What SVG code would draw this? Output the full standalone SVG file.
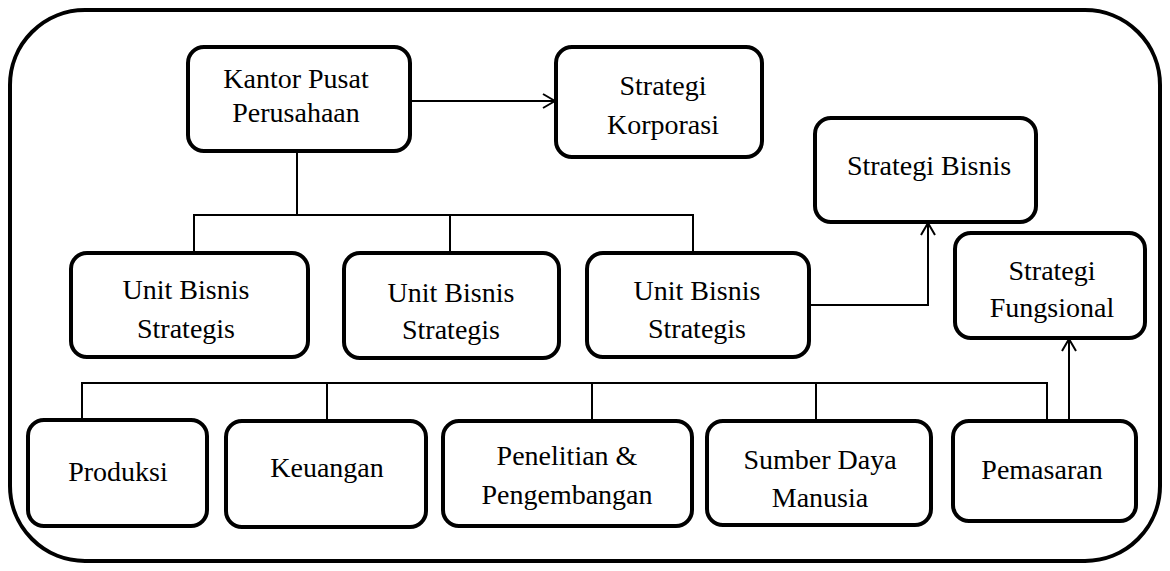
<svg xmlns="http://www.w3.org/2000/svg" width="1170" height="571" viewBox="0 0 1170 571">
  <style>
    .frame { fill: #ffffff; stroke: #000000; stroke-width: 4; }
    .box { fill: #ffffff; stroke: #000000; stroke-width: 4; }
    .wire { fill: none; stroke: #000000; stroke-width: 2; }
    text { font-family: 'Liberation Serif', serif; font-size: 28px; fill: #000000; text-anchor: middle; }
  </style>
  <defs>
    <marker id="open-arrow" viewBox="0 0 14 16" refX="13" refY="8" markerWidth="14" markerHeight="16" markerUnits="userSpaceOnUse" orient="auto">
      <path d="M1,1 L13,8 L1,15" fill="none" stroke="#000000" stroke-width="2"/>
    </marker>
  </defs>

  <rect class="frame" x="10" y="10" width="1150" height="551" rx="75" ry="75"/>

  <g id="connectors">
    <!-- head office to corporate strategy -->
    <line class="wire" x1="410" y1="101" x2="555" y2="101" marker-end="url(#open-arrow)"/>
    <!-- head office to business units -->
    <line class="wire" x1="297" y1="151" x2="297" y2="215"/>
    <line class="wire" x1="193" y1="215" x2="694" y2="215"/>
    <line class="wire" x1="194" y1="215" x2="194" y2="253"/>
    <line class="wire" x1="450" y1="215" x2="450" y2="253"/>
    <line class="wire" x1="693" y1="215" x2="693" y2="253"/>
    <!-- business unit to business strategy -->
    <polyline class="wire" points="809,305 928,305 928,223" marker-end="url(#open-arrow)"/>
    <!-- functional bus -->
    <line class="wire" x1="81" y1="383" x2="1048" y2="383"/>
    <line class="wire" x1="82" y1="383" x2="82" y2="420"/>
    <line class="wire" x1="327" y1="383" x2="327" y2="421"/>
    <line class="wire" x1="592" y1="383" x2="592" y2="421"/>
    <line class="wire" x1="816" y1="383" x2="816" y2="421"/>
    <line class="wire" x1="1047" y1="383" x2="1047" y2="420"/>
    <!-- marketing to functional strategy -->
    <line class="wire" x1="1069" y1="420" x2="1069" y2="339" marker-end="url(#open-arrow)"/>
  </g>

  <g id="kantor-pusat">
    <rect class="box" x="188" y="47" width="222" height="104" rx="16"/>
    <text x="296" y="88" font-size="27">Kantor Pusat</text>
    <text x="296" y="122" font-size="27">Perusahaan</text>
  </g>

  <g id="strategi-korporasi">
    <rect class="box" x="556" y="47" width="206" height="110" rx="16"/>
    <text x="663" y="95">Strategi</text>
    <text x="663" y="134">Korporasi</text>
  </g>

  <g id="strategi-bisnis">
    <rect class="box" x="815" y="118" width="221" height="104" rx="16"/>
    <text x="929" y="175">Strategi Bisnis</text>
  </g>

  <g id="strategi-fungsional">
    <rect class="box" x="955" y="233" width="190" height="105" rx="16"/>
    <text x="1052" y="280">Strategi</text>
    <text x="1052" y="317">Fungsional</text>
  </g>

  <g id="unit-bisnis-1">
    <rect class="box" x="71" y="253" width="237" height="104" rx="16"/>
    <text x="186" y="299">Unit Bisnis</text>
    <text x="186" y="338">Strategis</text>
  </g>

  <g id="unit-bisnis-2">
    <rect class="box" x="344" y="253" width="215" height="105" rx="16"/>
    <text x="451" y="302">Unit Bisnis</text>
    <text x="451" y="339">Strategis</text>
  </g>

  <g id="unit-bisnis-3">
    <rect class="box" x="587" y="253" width="222" height="104" rx="16"/>
    <text x="697" y="300">Unit Bisnis</text>
    <text x="697" y="338">Strategis</text>
  </g>

  <g id="produksi">
    <rect class="box" x="28" y="420" width="179" height="106" rx="16"/>
    <text x="118" y="481" font-size="29">Produksi</text>
  </g>

  <g id="keuangan">
    <rect class="box" x="226" y="421" width="200" height="106" rx="16"/>
    <text x="327" y="477">Keuangan</text>
  </g>

  <g id="penelitian">
    <rect class="box" x="443" y="421" width="249" height="105" rx="16"/>
    <text x="567" y="465">Penelitian &amp;</text>
    <text x="567" y="504">Pengembangan</text>
  </g>

  <g id="sumber-daya-manusia">
    <rect class="box" x="707" y="421" width="224" height="104" rx="16"/>
    <text x="820" y="469">Sumber Daya</text>
    <text x="820" y="507">Manusia</text>
  </g>

  <g id="pemasaran">
    <rect class="box" x="953" y="421" width="183" height="100" rx="16"/>
    <text x="1042" y="479" font-size="25">Pemasaran</text>
  </g>
</svg>
